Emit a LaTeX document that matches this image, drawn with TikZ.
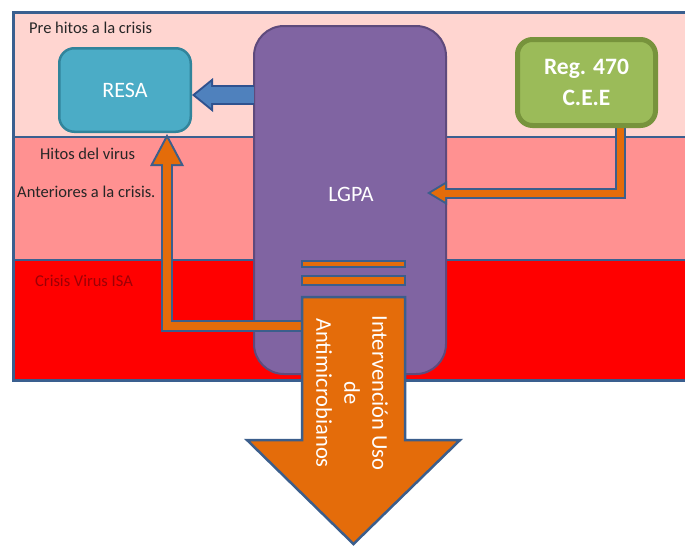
\documentclass[tikz,border=0pt]{standalone}
\usepackage{fontspec}
\setmainfont{Carlito}
\usetikzlibrary{arrows.meta,calc}

\definecolor{bandA}{HTML}{FFD5D0}
\definecolor{bandB}{HTML}{FF9191}
\definecolor{bandC}{HTML}{FF0000}
\definecolor{framecol}{HTML}{3A5F8F}
\definecolor{lgpafill}{HTML}{8064A2}
\definecolor{lgpadraw}{HTML}{5E4A7C}
\definecolor{resafill}{HTML}{4BACC6}
\definecolor{resadraw}{HTML}{31849B}
\definecolor{regfill}{HTML}{9BBB59}
\definecolor{regdraw}{HTML}{77933C}
\definecolor{orangeA}{HTML}{E46C0A}
\definecolor{edgeblue}{HTML}{3B5E8C}
\definecolor{bluefill}{HTML}{4F81BD}
\definecolor{bluedraw}{HTML}{2F528F}
\definecolor{labeltext}{HTML}{262626}
\definecolor{crisistext}{HTML}{9C0006}

\begin{document}
\begin{tikzpicture}[x=1pt,y=-1pt,
  bandlabel/.style={anchor=west, inner sep=0pt, text=labeltext,
    font=\fontsize{16.5}{20}\selectfont},
  boxtext/.style={text=white, font=\fontsize{22}{26}\selectfont},
  orangeedge/.style={draw=edgeblue, fill=orangeA, line width=2pt, line join=miter},
  outerpass/.style={edgeblue, line width=#1, line join=miter},
  innerpass/.style={orangeA, line width=#1, line join=miter}
]
\useasboundingbox (0,0) rectangle (685,546);

% three horizontal bands with their frame
\fill[bandA] (13,12) rectangle (690,137);
\fill[bandB] (13,137) rectangle (690,260);
\fill[bandC] (13,260) rectangle (690,380);
\draw[framecol, line width=2.5pt] (13,137) -- (690,137) (13,260) -- (690,260);
\draw[framecol, line width=3pt] (690,12) -- (13,12) -- (13,380) -- (690,380);

% band labels
\node[bandlabel] (lblpre) at (29,28) {Pre hitos a la crisis};
\node[bandlabel] (lblhitos) at (40,154) {Hitos del virus};
\node[bandlabel] (lblant) at (17,192) {Anteriores a la crisis.};
\node[bandlabel, text=crisistext] (lblcrisis) at (35,281) {Crisis Virus ISA};

% central LGPA block
\node[draw=lgpadraw, fill=lgpafill, line width=2pt, rounded corners=30pt,
  minimum width=192pt, minimum height=348pt, inner sep=0pt,
  label={[boxtext, yshift=6pt, xshift=1pt]center:LGPA}] (lgpa) at (350,200) {};

% RESA block
\node[draw=resadraw, fill=resafill, line width=2.5pt, rounded corners=15pt,
  minimum width=131.5pt, minimum height=83.5pt, boxtext] (resa) at (125,90) {RESA};

% named ends of the connectors
\coordinate (resaIn) at ($(resa.east)+(0,5)$);
\coordinate (lgpaIn) at ($(lgpa.east)+(-20,-7)$);
\coordinate (resaBelow) at ($(resa.south)+(42,1)$);
\coordinate (shaftL) at (306,326);

% LGPA -> RESA (blue block arrow)
\draw[bluedraw, line width=20pt, -{Triangle[length=21pt,width=34pt,line width=0pt]}]
  ($(lgpa.west |- resaIn)+(1,0)$) -- (resaIn);
\draw[bluefill, line width=16pt, shorten >=3.2pt,
  -{Triangle[length=15.8pt,width=25.6pt,line width=0pt]}]
  ($(lgpa.west |- resaIn)+(1,0)$) -- (resaIn);

% Reg. 470 -> LGPA (bent orange arrow)
\coordinate (regOut) at (620,120);
\draw[outerpass=11pt, -{Triangle[length=20pt,width=24pt,line width=0pt]}]
  (regOut) |- (lgpaIn);
\draw[innerpass=7pt, shorten >=3.9pt, -{Triangle[length=14.1pt,width=16.9pt,line width=0pt]}]
  (regOut) |- (lgpaIn);

% Reg. 470 block
\node[draw=regdraw, fill=regfill, line width=5pt, rounded corners=15pt,
  minimum width=138pt, minimum height=86pt, text=white, align=center,
  font=\fontsize{23.5}{31}\selectfont\bfseries] (reg) at (586.5,82.5) {Reg. 470\\C.E.E};

% intervention -> RESA (bent orange arrow)
\draw[outerpass=11.5pt, -{Triangle[length=32pt,width=34pt,line width=0pt]}]
  (shaftL) -| (resaBelow);
\draw[innerpass=7.5pt, shorten >=4.4pt, -{Triangle[length=25.6pt,width=27.2pt,line width=0pt]}]
  (shaftL) -| (resaBelow);

% stripes and big downward arrow
\draw[orangeedge] (302,261) rectangle (405,267);
\draw[orangeedge] (302,276) rectangle (405,285);
\draw[orangeedge, line width=2.5pt]
  (302,297) -- (405,297) -- (405,440) -- (460,440) -- (353.5,544)
  -- (247,440) -- (302,440) -- cycle;
\node[rotate=-90, text=white, align=center, inner sep=0pt,
  font=\fontsize{22.5}{28}\selectfont] (uso) at (352,393)
  {Intervención Uso\\de\\Antimicrobianos};

\end{tikzpicture}
\end{document}
